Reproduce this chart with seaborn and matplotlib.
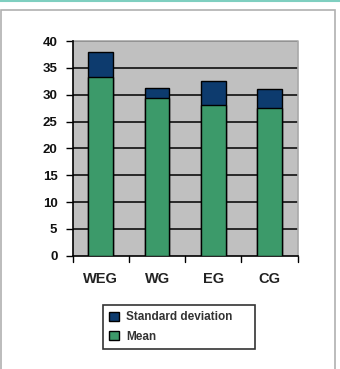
import matplotlib
matplotlib.use("Agg")
import matplotlib.pyplot as plt
import seaborn as sns
import pandas as pd
import numpy as np
from matplotlib.patches import Rectangle
from matplotlib.lines import Line2D
from matplotlib import font_manager

categories = ["WEG", "WG", "EG", "CG"]
mean_vals = [33.3, 29.3, 28.1, 27.5]
sd_vals = [4.6, 1.9, 4.4, 3.5]
yticks = [0, 5, 10, 15, 20, 25, 30, 35, 40]
legend_labels = ["Standard deviation", "Mean"]

sns.set_theme(style="white")
names = {f.name for f in font_manager.fontManager.ttflist}
fam = "Liberation Sans Narrow" if "Liberation Sans Narrow" in names else "Liberation Sans"
plt.rcParams["font.family"] = [fam, "DejaVu Sans"]

green = "#3C9A6A"
navy = "#0D3B6E"

df = pd.DataFrame({"group": categories, "mean": mean_vals, "sd": sd_vals})
df["total"] = df["mean"] + df["sd"]

fig = plt.figure(figsize=(3.4, 3.69), dpi=100)
fig.patch.set_facecolor("white")

# decorative frame
fig.add_artist(Line2D([0, 1], [0.997, 0.997], transform=fig.transFigure, color="#7FCFC0", lw=1.5))
fig.add_artist(Rectangle((0.003, -0.01), 0.983, 0.983, transform=fig.transFigure,
                         fill=False, edgecolor="#B0B0B0", lw=1.2))

ax = fig.add_axes([0.2138, 0.307, 0.6618, 0.5818])
ax.set_facecolor("#C0C0C0")
ax.set_axisbelow(True)
for y in yticks[1:]:
    ax.axhline(y, color="black", lw=1.1, zorder=0.5)

sns.barplot(data=df, x="group", y="total", color=navy, width=0.44,
            edgecolor="black", linewidth=1.0, ax=ax, saturation=1, zorder=2)
sns.barplot(data=df, x="group", y="mean", color=green, width=0.44,
            edgecolor="black", linewidth=1.0, ax=ax, saturation=1, zorder=3)

ax.set_ylim(0, 40)
ax.set_xlim(-0.5, 3.5)
ax.set_yticks(yticks)
ax.set_yticklabels([str(v) for v in yticks], fontsize=9.5, fontweight="bold", color="#111111")
ax.set_xticks(range(4))
ax.set_xticklabels(categories, fontsize=10.5, fontweight="bold", color="#222222")
ax.tick_params(axis="x", length=0, pad=12)
ax.tick_params(axis="y", length=5, width=1, color="black", direction="out", left=True, pad=6)
for x in [-0.5, 0.5, 1.5, 2.5, 3.5]:
    ax.plot([x, x], [0, -0.028], transform=ax.get_xaxis_transform(), color="black",
            lw=1, clip_on=False)
ax.set_xlabel("")
ax.set_ylabel("")
for s in ["top", "right"]:
    ax.spines[s].set_visible(False)
ax.spines["left"].set_color("black")
ax.spines["bottom"].set_color("black")
ax.spines["left"].set_linewidth(1.2)
ax.spines["bottom"].set_linewidth(1.2)
# gray right/top border of plot area
ax.plot([0, 1, 1], [1, 1, 0], transform=ax.transAxes, color="#A8A8A8", lw=1.2, clip_on=False)

handles = [Rectangle((0, 0), 1, 1, facecolor=navy, edgecolor="black", lw=1),
           Rectangle((0, 0), 1, 1, facecolor=green, edgecolor="black", lw=1)]
leg = fig.legend(handles, legend_labels, loc="upper left",
                 bbox_to_anchor=(103 / 340, 1 - 353 / 369, 152 / 340, 48 / 369),
                 mode="expand", frameon=True, fancybox=False, fontsize=8.5,
                 handlelength=0.8, handleheight=0.8, handletextpad=0.6,
                 labelspacing=0.6, borderpad=0.55, borderaxespad=0)
leg.get_frame().set_edgecolor("black")
leg.get_frame().set_linewidth(1.2)
for t in leg.get_texts():
    t.set_fontweight("bold")
    t.set_color("#333333")

fig.savefig("out.png", dpi=100)
